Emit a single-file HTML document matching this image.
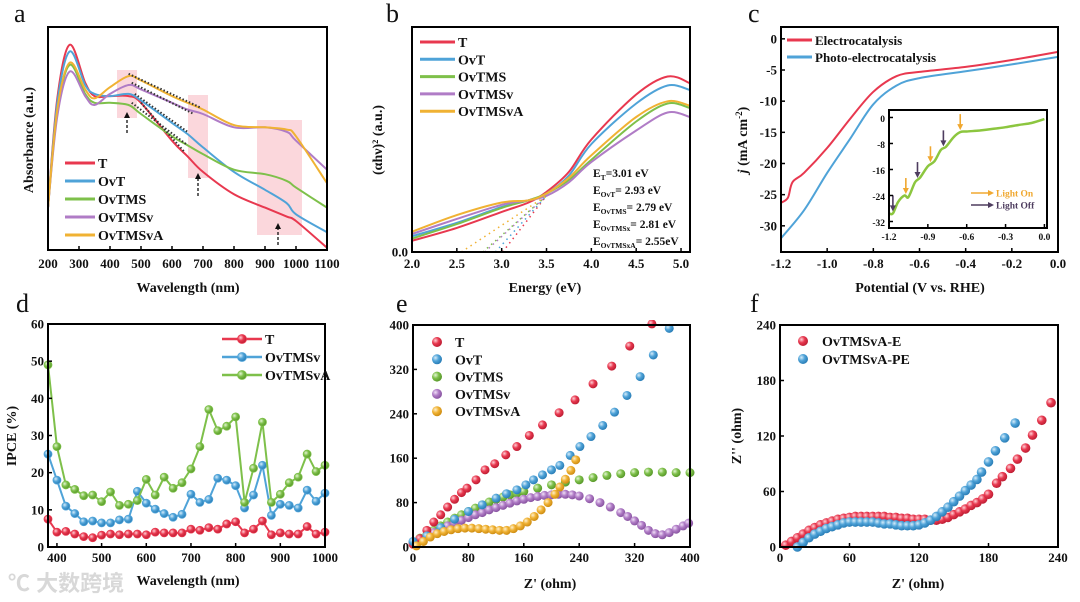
<!DOCTYPE html>
<html><head><meta charset="utf-8">
<style>
html,body{margin:0;padding:0;background:#fff;width:1080px;height:602px;overflow:hidden}
svg{display:block;font-family:"Liberation Serif","Noto Serif CJK SC",serif;font-weight:bold}
.wm{position:absolute;left:8px;top:566px;font-family:"Liberation Sans","Noto Sans CJK SC",sans-serif;font-size:22px;color:#d8d8d8;font-weight:bold}
</style></head>
<body>
<svg id="fig" width="1080" height="602" viewBox="0 0 1080 602">
<defs>
<radialGradient id="gR" cx="35%" cy="35%" r="65%"><stop offset="0" stop-color="#ffd0d6"/><stop offset="0.5" stop-color="#e8384f"/><stop offset="1" stop-color="#c01f35"/></radialGradient>
<radialGradient id="gB" cx="35%" cy="35%" r="65%"><stop offset="0" stop-color="#d6ecfa"/><stop offset="0.5" stop-color="#4fa3d8"/><stop offset="1" stop-color="#2b7fb8"/></radialGradient>
<radialGradient id="gG" cx="35%" cy="35%" r="65%"><stop offset="0" stop-color="#e4f5d4"/><stop offset="0.5" stop-color="#7ec04a"/><stop offset="1" stop-color="#5a9a2c"/></radialGradient>
<radialGradient id="gP" cx="35%" cy="35%" r="65%"><stop offset="0" stop-color="#f0e0f7"/><stop offset="0.5" stop-color="#b07cc6"/><stop offset="1" stop-color="#8a55a2"/></radialGradient>
<radialGradient id="gO" cx="35%" cy="35%" r="65%"><stop offset="0" stop-color="#fff0cc"/><stop offset="0.5" stop-color="#f0b233"/><stop offset="1" stop-color="#cf8e14"/></radialGradient>
</defs>
</svg>
<div class="wm">℃ 大数跨境</div>
<script>
// ---------- data: panel a ----------
const aWl = [200,230,270,320,350,400,460,500,600,650,700,800,900,970,1000,1100];
const aT = [19,68,92,75,69,69,69,66,49,42,35,25,19,15,13,1];
const aOvT = [19,66,89,74,70,69,70,67,57,52,46,35,27,21,16,8];
const aOvTMS = [19,62,83,70,66,66,65,61,51,47,43,36,34,31,28,19];
const aOvTMSv = [19,60,80,69,65,70,74,72,66,63,61,55,55,53,49,36];
const aOvTMSvA = [19,63,84,72,68,73,78,76,69,66,63,56,55,54,51,30];
const aNames = ["T","OvT","OvTMS","OvTMSv","OvTMSvA"];
// ---------- data: panel b ----------
const bE = [2.0,2.5,3.0,3.3,3.5,3.75,4.0,4.5,4.85,5.1];
const bT = [5,10.7,17.8,22,26.7,35.6,50,70,78,75];
const bOvT = [7,13,20,23,26,34,48,66,74,72];
const bOvTMS = [6,12.4,19.6,23,26,32,41,58,66,64];
const bOvTMSv = [8,14.7,21,23,25,31,40,54,62,60];
const bOvTMSvA = [9,16.4,22,23,26,33,43,60,67,65];
const bGap = [3.01,2.93,2.79,2.81,2.55];
// ---------- data: panel c ----------
const cVe = [-1.2,-1.17,-1.15,-1.1,-1.0,-0.9,-0.8,-0.7,-0.6,-0.4,-0.2,0];
const cElec = [-26.3,-25.5,-23,-21.5,-17.5,-12.8,-8.5,-6,-5.3,-4.5,-3.4,-2.1];
const cVp = [-1.2,-1.1,-1.0,-0.9,-0.8,-0.7,-0.6,-0.4,-0.2,0];
const cPhoto = [-32,-27.5,-21.5,-16,-10.5,-7.5,-6.3,-5.2,-4.1,-2.9];
const inV = [-1.2,-1.17,-1.13,-1.08,-1.05,-1.0,-0.96,-0.9,-0.85,-0.8,-0.76,-0.7,-0.65,-0.6,-0.5,-0.4,-0.3,-0.2,-0.1,0];
const inJ = [-29.5,-29.5,-26,-24,-24.5,-20,-18.5,-15,-13.5,-10,-9,-6,-4.5,-4.3,-4,-3.5,-3,-2.3,-1.7,-0.5];
const inOnV = [-1.07,-0.88,-0.65];
const inOffV = [-1.17,-0.98,-0.78];
// ---------- data: panel d ----------
const dWl = [380,400,420,440,460,480,500,520,540,560,580,600,620,640,660,680,700,720,740,760,780,800,820,840,860,880,900,920,940,960,980,1000];
const dT = [7.5,4,4.2,3.5,2.8,2.5,3.2,3.5,3.3,3.5,3.5,3.3,4,3.8,3.8,3.8,4.8,4.5,5.2,4.8,6.2,6.8,3.8,4.8,7,3.3,3.8,3.5,3.5,5.5,3.5,4];
const dOvTMSv = [25,18,11,9,6.8,7,6.5,6.5,7.3,7.5,15,11.8,10.2,9,8,8.8,14.2,12,12.8,18.5,18,16.5,10.5,14,22,8.5,11.5,11.2,10.5,15.3,12.3,14.5];
const dOvTMSvA = [49,27,16.7,15.5,13.8,14,12.2,14.8,11.2,11.5,12.5,18.2,14,18.8,15.8,17.3,21,27,37,31.3,32.5,35,12,21.2,33.6,12,14.2,17.3,18.8,25,20.3,22];
// ---------- data: panel e ----------
const eTx = [0,10,20,30,40,50,60,70,78,91,104,118,134,150,168,187,211,234,260,287,313,345];
const eTy = [5,15,30,45,58,72,86,98,106,121,139,150,166,181,201,220,242,265,294,326,362,402];
const eOvTx = [0,20,40,60,80,100,120,135,150,163,174,187,200,212,227,241,257,274,291,309,328,347,370];
const eOvTy = [10,20,35,50,64,76,88,96,103,112,121,130,139,147,165,181,199,219,243,273,307,346,394];
const eOvTMSx = [0,10,20,30,40,50,60,70,80,90,100,110,120,130,140,150,160,180,200,220,240,260,280,300,320,340,360,380,400];
const eOvTMSy = [8,16,22,30,38,45,52,58,64,70,76,81,86,90,94,97,100,106,112,117,121,125,129,132,134,135,135,134,134];
const eOvTMSvx = [0,10,20,30,40,50,60,70,80,90,100,110,120,130,140,150,160,170,180,190,200,210,220,230,240,255,270,285,300,310,320,330,340,350,360,370,380,390,398];
const eOvTMSvy = [8,14,20,26,32,38,43,48,53,58,62,67,71,75,79,83,86,89,91,93,94,95,95,94,92,87,80,72,62,55,47,39,30,24,22,26,32,38,43];
const eOvTMSvAx = [5,15,25,35,45,55,65,75,85,95,105,115,125,135,145,155,165,175,185,195,205,212,220,228,235];
const eOvTMSvAy = [2,10,18,24,28,31,33,34,34,33,32,31,30,30,33,38,45,55,67,80,95,108,122,138,157];
// ---------- data: panel f ----------
const fEx = [5,10,15,20,25,30,35,40,45,50,55,60,65,70,75,80,85,90,95,100,105,110,115,120,125,130,135,140,145,150,155,160,165,170,175,180,187,192,199,205,212,218,226,234];
const fEy = [2,6,10,14,18,21,24,26,28,30,31,32,33,33,33,33,33,33,32,32,31,31,30,30,30,29,29,30,32,35,38,41,45,48,52,57,69,76,85,95,107,121,137,156];
const fPEx = [15,20,25,30,35,40,45,50,55,60,65,70,75,80,85,90,95,100,105,110,115,120,125,130,135,140,145,150,155,160,165,170,174,180,186,194,203];
const fPEy = [0,5,10,14,17,20,22,24,26,27,27,27,27,27,26,25,25,24,23,23,23,24,26,29,33,38,43,49,55,61,67,73,81,92,104,118,134];

// ---------- helpers ----------
const NS = "http://www.w3.org/2000/svg";
const svg = document.getElementById('fig');
function mk(tag, a, p){ const e=document.createElementNS(NS,tag); for(const k in a) e.setAttribute(k,a[k]); (p||svg).appendChild(e); return e; }
function txt(s,x,y,size,anchor,fill,p){ const t=mk('text',{x:x,y:y,'font-size':size,'text-anchor':anchor||'middle',fill:fill||'#111'},p); t.textContent=s; return t; }
function panel(x0,x1,y0,y1,xmin,xmax,ymin,ymax){ return {x0,x1,y0,y1,sx:v=>x0+(v-xmin)/(xmax-xmin)*(x1-x0),sy:v=>y1-(v-ymin)/(ymax-ymin)*(y1-y0)}; }
function smooth(pts){ let d='M'+pts[0][0]+','+pts[0][1]; for(let i=0;i<pts.length-1;i++){ const p0=pts[Math.max(0,i-1)],p1=pts[i],p2=pts[i+1],p3=pts[Math.min(pts.length-1,i+2)]; const c1=[p1[0]+(p2[0]-p0[0])/6,p1[1]+(p2[1]-p0[1])/6], c2=[p2[0]-(p3[0]-p1[0])/6,p2[1]-(p3[1]-p1[1])/6]; d+=' C'+c1[0].toFixed(1)+','+c1[1].toFixed(1)+' '+c2[0].toFixed(1)+','+c2[1].toFixed(1)+' '+p2[0].toFixed(1)+','+p2[1].toFixed(1);} return d; }
function frame(P,g,sw){ mk('rect',{x:P.x0,y:P.y0,width:P.x1-P.x0,height:P.y1-P.y0,fill:'none',stroke:'#000','stroke-width':sw||2},g); }
function xticks(P,vals,labels,g,size,ly){ vals.forEach((v,i)=>{ const x=P.sx(v); mk('line',{x1:x,x2:x,y1:P.y1,y2:P.y1-4,stroke:'#000','stroke-width':1.5},g); if(labels) { const t=txt(labels[i],x,ly,size,'middle','#111',g);
 
  } }); }
function yticks(P,vals,labels,g,size){ vals.forEach((v,i)=>{ const y=P.sy(v); mk('line',{x1:P.x0,x2:P.x0+4,y1:y,y2:y,stroke:'#000','stroke-width':1.5},g); if(labels){ const t=txt(labels[i],P.x0-4,y+4.5,size,'end','#111',g);
 
  } }); }
function ytitle(s,x,y,g){ const t=txt(s,x,y,14,'middle','#111',g); t.setAttribute('transform','rotate(-90 '+x+' '+y+')');   return t; }
function xtitle(s,x,y,g){ const t=txt(s,x,y,14,'middle','#111',g);   return t; }
function letter(s,x,y){ const t=txt(s,x,y,26,'start','#111'); t.setAttribute('font-weight','normal');   }
const COL = ['#e8384f','#4fa3d8','#7ec04a','#b07cc6','#f0b233'];
const GRAD = {r:'url(#gR)',b:'url(#gB)',g:'url(#gG)',p:'url(#gP)',o:'url(#gO)'};

// ---------- panel a ----------
{
 const g=mk('g',{});
 
 
 const P=panel(48,327,27,250,200,1100,0,100);
 [[117,137,70,118],[188,208,95,178],[257,302,120,235]].forEach(r=>{ const e=mk('rect',{x:r[0],y:r[2],width:r[1]-r[0],height:r[3]-r[2],fill:'#f9c9d0',opacity:0.75},g);
  
   });
 [aT,aOvT,aOvTMS,aOvTMSv,aOvTMSvA].forEach((s,i)=>{ const p=mk('path',{d:smooth(aWl.map((w,j)=>[P.sx(w),P.sy(s[j])])),fill:'none',stroke:COL[i],'stroke-width':2},g);
  
   });
 // tangent dotted lines
 [[500,66,640,44],[480,70,650,53],[470,66,650,47],[470,75,670,61],[460,79,690,64]].forEach(l=>{ mk('line',{x1:P.sx(l[0]),y1:P.sy(l[1]),x2:P.sx(l[2]),y2:P.sy(l[3]),stroke:'#333','stroke-width':2,'stroke-dasharray':'1.5,2'},g); });
 [[127,133,112],[198,196,173],[278,245,223]].forEach(a=>{ const l=mk('line',{x1:a[0],x2:a[0],y1:a[1],y2:a[2]+5,stroke:'#111','stroke-width':1.3,'stroke-dasharray':'3,2'},g);
   
  mk('path',{d:`M${a[0]-3},${a[2]+6} L${a[0]},${a[2]} L${a[0]+3},${a[2]+6}Z`,fill:'#111'},g); });
 frame(P,g);
 xticks(P,[200,300,400,500,600,700,800,900,1000,1100],['200','300','400','500','600','700','800','900','1000','1100'],g,13,268);
 xtitle('Wavelength (nm)',188,292,g);
 ytitle('Absorbance (a.u.)',33,140,g);
 aNames.forEach((n,i)=>{ const y=163+i*18; mk('line',{x1:65,x2:95,y1:y,y2:y,stroke:COL[i],'stroke-width':3},g); const t=txt(n,98,y+5,14,'start','#111',g);
    });
 letter('a',14,22);
}
// ---------- panel b ----------
{
 const g=mk('g',{});
 
 
 const P=panel(412,690,27,252,2.0,5.1,0,100);
 [bT,bOvT,bOvTMS,bOvTMSv,bOvTMSvA].forEach((s,i)=>{ const p=mk('path',{d:smooth(bE.map((e,j)=>[P.sx(e),P.sy(s[j])])),fill:'none',stroke:COL[i],'stroke-width':2},g);
  
   });
 bGap.forEach((e,i)=>{ const l=mk('line',{x1:P.sx(e),y1:P.sy(0),x2:P.sx(3.5),y2:P.sy(25),stroke:COL[i],'stroke-width':1.5,'stroke-dasharray':'1.5,4'},g);
    });
 frame(P,g);
 xticks(P,[2.0,2.5,3.0,3.5,4.0,4.5,5.0],['2.0','2.5','3.0','3.5','4.0','4.5','5.0'],g,13,268);
 yticks(P,[0],['0.0'],g,13);
 xtitle('Energy (eV)',545,292,g);
 ytitle('(αhν)² (a.u.)',382,140,g);
 aNames.forEach((n,i)=>{ const y=42+i*17.3; mk('line',{x1:420,x2:455,y1:y,y2:y,stroke:COL[i],'stroke-width':3},g); const t=txt(n,458,y+5,14,'start','#111',g);
    });
 const subs=['T','OvT','OvTMS','OvTMSx','OvTMSxA'];
 const vals=['=3.01 eV','= 2.93 eV','= 2.79 eV','= 2.81 eV','= 2.55eV'];
 subs.forEach((s,i)=>{ const t=mk('text',{x:593,y:177+i*17,'font-size':11.5,fill:'#111'},g);
   
  t.innerHTML='E<tspan font-size="7.5" dy="3">'+s+'</tspan><tspan dy="-3">'+vals[i]+'</tspan>'; });
 letter('b',386,22);
}
// ---------- panel c ----------
{
 const g=mk('g',{});
 
 
 const P=panel(781,1058,27,252,-1.2,0,-34.2,1.9);
 const p1=mk('path',{d:smooth(cVe.map((v,j)=>[P.sx(v),P.sy(cElec[j])])),fill:'none',stroke:COL[0],'stroke-width':2},g);
  
 const p2=mk('path',{d:smooth(cVp.map((v,j)=>[P.sx(v),P.sy(cPhoto[j])])),fill:'none',stroke:COL[1],'stroke-width':2},g);
  
 frame(P,g);
 xticks(P,[-1.2,-1.0,-0.8,-0.6,-0.4,-0.2,0],['-1.2','-1.0','-0.8','-0.6','-0.4','-0.2','0.0'],g,13,268);
 yticks(P,[0,-5,-10,-15,-20,-25,-30],['0','-5','-10','-15','-20','-25','-30'],g,13);
 xtitle('Potential (V vs. RHE)',920,292,g);
 const yt=ytitle('',747,140,g); yt.innerHTML='<tspan font-style="italic">j</tspan> (mA cm<tspan font-size="9" dy="-5">-2</tspan><tspan dy="5">)</tspan>';
 [['Electrocatalysis',40],['Photo-electrocatalysis',57]].forEach((e,i)=>{ mk('line',{x1:787,x2:812,y1:e[1],y2:e[1],stroke:COL[i],'stroke-width':3},g); const t=txt(e[0],815,e[1]+5,13,'start','#111',g);
    });
 // inset
 const gi=mk('g',{},g);
 
 
 const Q=panel(889,1047,110,228,-1.2,0.02,-34,2.3);
 mk('rect',{x:Q.x0,y:Q.y0,width:Q.x1-Q.x0,height:Q.y1-Q.y0,fill:'#fff'},gi);
 const pi=mk('path',{d:smooth(inV.map((v,j)=>[Q.sx(v),Q.sy(inJ[j])])),fill:'none',stroke:'#8cc63f','stroke-width':2.5},gi);
  
 function interp(v){ for(let k=0;k<inV.length-1;k++){ if(v>=inV[k]&&v<=inV[k+1]){ const t=(v-inV[k])/(inV[k+1]-inV[k]); return inJ[k]+t*(inJ[k+1]-inJ[k]); } } return 0; }
 function arrow(v,col,name){ const x=Q.sx(v), yb=Q.sy(interp(v))-3; const l=mk('line',{x1:x,x2:x,y1:yb-15,y2:yb-3,stroke:col,'stroke-width':1.6},gi);
   
  mk('path',{d:`M${x-3},${yb-5} L${x},${yb+1} L${x+3},${yb-5}Z`,fill:col},gi); }
 inOnV.forEach(v=>arrow(v,'#f0a830','light-on-arrow'));
 inOffV.forEach(v=>arrow(v,'#4e3d5f','light-off-arrow'));
 frame(Q,gi,2);
 xticks(Q,[-1.2,-0.9,-0.6,-0.3,0],['-1.2','-0.9','-0.6','-0.3','0.0'],gi,9.5,240);
 yticks(Q,[0,-8,-16,-24,-32],['0','-8','-16','-24','-32'],gi,9.5);
 [['Light On','#f0a830',193],['Light Off','#4e3d5f',205]].forEach(e=>{ mk('line',{x1:971,x2:990,y1:e[2],y2:e[2],stroke:e[1],'stroke-width':1.5},gi); mk('path',{d:`M988,${e[2]-3} L994,${e[2]} L988,${e[2]+3}Z`,fill:e[1]},gi); const t=txt(e[0],996,e[2]+3.5,9.5,'start',e[1],gi);
    });
 letter('c',748,22);
}
// ---------- panel d ----------
{
 const g=mk('g',{});
 
 
 const P=panel(48,325,324,547,380,1000,0,60);
 const ser=[[dT,COL[0],GRAD.r,'T'],[dOvTMSv,COL[1],GRAD.b,'OvTMSv'],[dOvTMSvA,COL[2],GRAD.g,'OvTMSvA']];
 ser.forEach(s=>{ const pl=mk('polyline',{points:dWl.map((w,j)=>P.sx(w)+','+P.sy(s[0][j])).join(' '),fill:'none',stroke:s[1],'stroke-width':2},g);
   
  dWl.forEach((w,j)=>{ const c=mk('circle',{cx:P.sx(w),cy:P.sy(s[0][j]),r:4,fill:s[2],stroke:s[1],'stroke-width':0.8},g);
     }); });
 frame(P,g);
 xticks(P,[400,500,600,700,800,900,1000],['400','500','600','700','800','900','1000'],g,13,562);
 yticks(P,[0,10,20,30,40,50,60],['0','10','20','30','40','50','60'],g,13);
 xtitle('Wavelength (nm)',188,585,g);
 ytitle('IPCE (%)',16,436,g);
 ser.forEach((s,i)=>{ const y=339+i*18; mk('line',{x1:222,x2:262,y1:y,y2:y,stroke:s[1],'stroke-width':2.5},g); mk('circle',{cx:242,cy:y,r:4.5,fill:s[2],stroke:s[1],'stroke-width':0.8},g); const t=txt(s[3],265,y+5,14,'start','#111',g);
    });
 letter('d',16,312);
}
// ---------- panel e ----------
{
 const g=mk('g',{});
 
 
 const P=panel(413,690,325,547,0,400,0,400);
 const ser=[[eOvTMSx,eOvTMSy,GRAD.g,'OvTMS'],[eOvTMSvx,eOvTMSvy,GRAD.p,'OvTMSv'],[eTx,eTy,GRAD.r,'T'],[eOvTx,eOvTy,GRAD.b,'OvT'],[eOvTMSvAx,eOvTMSvAy,GRAD.o,'OvTMSvA']];
 const cp=mk('clipPath',{id:'clipE'}); mk('rect',{x:P.x0-5,y:P.y0-5,width:P.x1-P.x0+10,height:P.y1-P.y0+10},cp);
 const gc=mk('g',{'clip-path':'url(#clipE)'},g);
 ser.forEach(s=>{ s[0].forEach((x,j)=>{ const c=mk('circle',{cx:P.sx(x),cy:P.sy(s[1][j]),r:4.5,fill:s[2]},gc);
    }); });
 frame(P,g);
 xticks(P,[0,80,160,240,320,400],['0','80','160','240','320','400'],g,13,562);
 yticks(P,[0,80,160,240,320,400],['0','80','160','240','320','400'],g,13);
 xtitle("Z' (ohm)",550,588,g);
 [['T',GRAD.r],['OvT',GRAD.b],['OvTMS',GRAD.g],['OvTMSv',GRAD.p],['OvTMSvA',GRAD.o]].forEach((e,i)=>{ const y=342+i*17.3; mk('circle',{cx:437,cy:y,r:5,fill:e[1]},g); const t=txt(e[0],455,y+5,14,'start','#111',g);
    });
 letter('e',396,312);
}
// ---------- panel f ----------
{
 const g=mk('g',{});
 
 
 const P=panel(780,1058,325,547,0,240,0,240);
 [[fEx,fEy,GRAD.r,'OvTMSvA-E'],[fPEx,fPEy,GRAD.b,'OvTMSvA-PE']].forEach(s=>{ s[0].forEach((x,j)=>{ const c=mk('circle',{cx:P.sx(x),cy:P.sy(s[1][j]),r:4.8,fill:s[2]},g);
    }); });
 frame(P,g);
 xticks(P,[0,60,120,180,240],['0','60','120','180','240'],g,13,562);
 yticks(P,[0,60,120,180,240],['0','60','120','180','240'],g,13);
 xtitle("Z' (ohm)",918,588,g);
 ytitle("Z'' (ohm)",741,436,g);
 [['OvTMSvA-E',GRAD.r,341],['OvTMSvA-PE',GRAD.b,359]].forEach(e=>{ mk('circle',{cx:803,cy:e[2],r:5,fill:e[1]},g); const t=txt(e[0],822,e[2]+5,14,'start','#111',g);
    });
 letter('f',750,312);
}
</script>
</body></html>
